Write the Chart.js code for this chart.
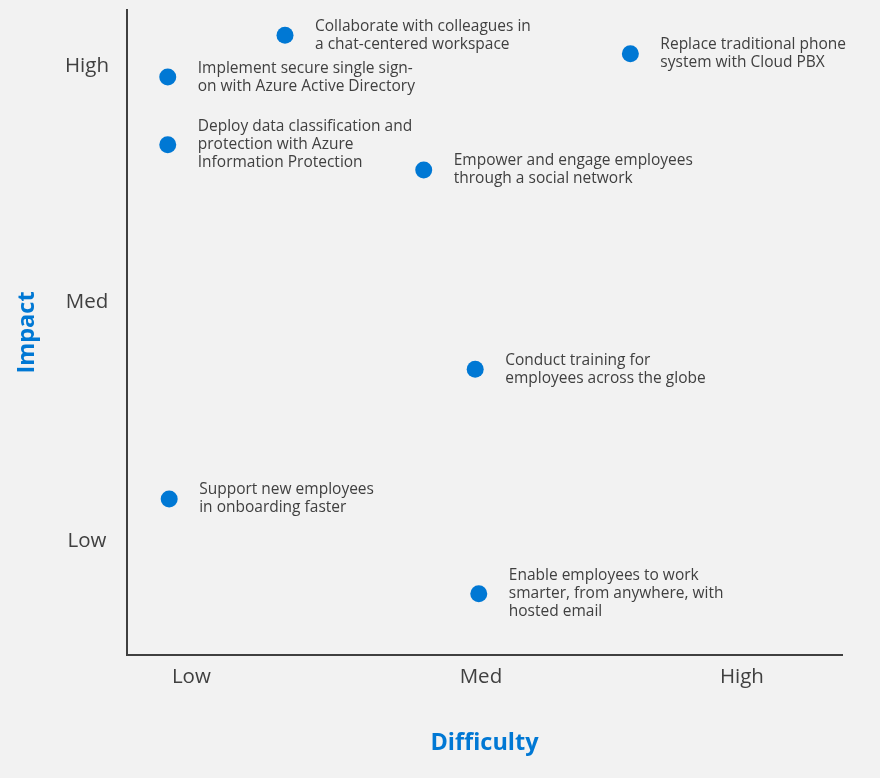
<!DOCTYPE html>
<html>
<head>
<meta charset="utf-8">
<script src="https://cdn.jsdelivr.net/npm/chart.js@4"></script>
<style>
  html, body { margin: 0; padding: 0; background: #f2f2f2; }
  #wrap { width: 880px; height: 778px; position: relative; }
</style>
</head>
<body>
<div id="wrap"><canvas id="myChart"></canvas></div>
<script>
// initiatives: difficulty (x) vs impact (y), both on a 0-10 scale
var initiativeNames = [
  ["Collaborate with colleagues in", "a chat-centered workspace"],
  ["Replace traditional phone", "system with Cloud PBX"],
  ["Implement secure single sign-", "on with Azure Active Directory"],
  ["Deploy data classification and", "protection with Azure", "Information Protection"],
  ["Empower and engage employees", "through a social network"],
  ["Conduct training for", "employees across the globe"],
  ["Support new employees", "in onboarding faster"],
  ["Enable employees to work", "smarter, from anywhere, with", "hosted email"]
];
var difficulty = [2.21, 7.04, 0.57, 0.57, 4.15, 4.87, 0.59, 4.92];
var impact     = [9.61, 9.32, 8.96, 7.91, 7.52, 4.43, 2.42, 0.95];

var xTickValues = [0.9, 4.95, 8.6];
var xTickLabels = ["Low", "Med", "High"];
var yTickValues = [1.77, 5.47, 9.13];
var yTickLabels = ["Low", "Med", "High"];

var textColor = "#404040";
var blue = "#0078d4";

var points = [];
for (let i = 0; i < difficulty.length; i++) {
  points.push({ x: difficulty[i], y: impact[i] });
}

// writes the initiative name to the right of each dot
var pointLabels = {
  id: "pointLabels",
  afterDatasetsDraw(chart) {
    var ctx = chart.ctx;
    var meta = chart.getDatasetMeta(0);
    ctx.save();
    ctx.font = "15.5px 'Open Sans'";
    ctx.fillStyle = textColor;
    ctx.textAlign = "left";
    ctx.textBaseline = "middle";
    meta.data.forEach(function (el, i) {
      var lines = initiativeNames[i];
      lines.forEach(function (line, j) {
        ctx.fillText(line, el.x + 30, el.y + (j - (lines.length - 1) / 2) * 18);
      });
    });
    ctx.restore();
  }
};

function fixedTicks(values) {
  return function (scale) {
    scale.ticks = values.map(function (v) { return { value: v }; });
  };
}

var myChart = new Chart(document.getElementById("myChart").getContext("2d"), {
  type: "scatter",
  data: {
    datasets: [{
      data: points,
      backgroundColor: blue,
      borderWidth: 0,
      pointRadius: 8.5,
      pointHoverRadius: 8.5,
      clip: false
    }]
  },
  options: {
    responsive: true,
    maintainAspectRatio: false,
    animation: false,
    events: [],
    layout: { padding: { top: 10, right: 38, left: 0, bottom: 0 } },
    plugins: { legend: { display: false }, tooltip: { enabled: false } },
    scales: {
      x: {
        min: 0, max: 10,
        afterBuildTicks: fixedTicks(xTickValues),
        afterFit: function (s) { s.height = 123; s.paddingLeft = 0; s.paddingRight = 0; },
        grid: { display: false, drawTicks: false },
        border: { display: true, color: textColor, width: 2 },
        ticks: {
          padding: 10,
          color: textColor,
          font: { family: "'Open Sans'", size: 20.5 },
          callback: function (v, i) { return xTickLabels[i]; }
        },
        title: {
          display: true, text: "Difficulty", color: blue,
          font: { family: "'Open Sans'", size: 23.5, weight: "bold" },
          padding: { top: 0, bottom: 21 }
        }
      },
      y: {
        min: 0, max: 10,
        afterBuildTicks: fixedTicks(yTickValues),
        afterFit: function (s) { s.width = 127; s.paddingTop = 0; s.paddingBottom = 0; },
        grid: { display: false, drawTicks: false },
        border: { display: true, color: textColor, width: 2 },
        ticks: {
          padding: 18,
          crossAlign: "center",
          color: textColor,
          font: { family: "'Open Sans'", size: 20.5 },
          callback: function (v, i) { return yTickLabels[i]; }
        },
        title: {
          display: true, text: "Impact", color: blue,
          font: { family: "'Open Sans'", size: 23.5, weight: "bold" },
          padding: { top: 13, bottom: 0 }
        }
      }
    }
  },
  plugins: [pointLabels]
});
</script>
</body>
</html>
